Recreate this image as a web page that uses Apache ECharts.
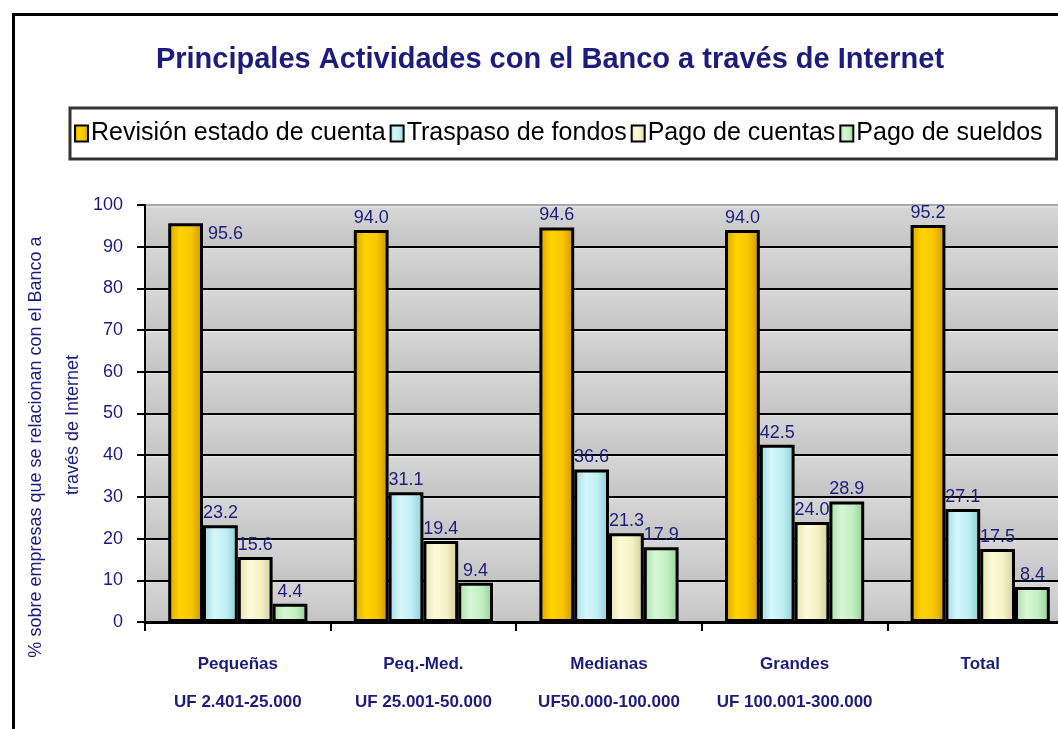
<!DOCTYPE html>
<html>
<head>
<meta charset="utf-8">
<script src="https://cdn.jsdelivr.net/npm/echarts@6/dist/echarts.min.js"></script>
<style>
html,body{margin:0;padding:0;background:#fff;overflow:hidden;}
#chart{width:1100px;height:729px;}
</style>
</head>
<body>
<div id="chart"></div>
<script>
const categories = ['Pequeñas\nUF 2.401-25.000', 'Peq.-Med.\nUF 25.001-50.000', 'Medianas\nUF50.000-100.000', 'Grandes\nUF 100.001-300.000', 'Total'];
const seriesNames = ['Revisión estado de cuenta', 'Traspaso de fondos', 'Pago de cuentas', 'Pago de sueldos'];
const revision = [95.6, 94.0, 94.6, 94.0, 95.2];
const traspaso = [23.2, 31.1, 36.6, 42.5, 27.1];
const pagoCuentas = [15.6, 19.4, 21.3, 24.0, 17.5];
const pagoSueldos = [4.4, 9.4, 17.9, 28.9, 8.4];
const yTicks = [0, 10, 20, 30, 40, 50, 60, 70, 80, 90, 100];
const yAxisTitleLines = ['% sobre empresas que se relacionan con el Banco a', 'través de Internet'];
const chartTitle = 'Principales Actividades con el Banco a través de Internet';

const navy = '#1c1c7c';
const font = "'Liberation Sans', Arial, sans-serif";

function hGrad(stops) {
  return {type: 'linear', x: 0, y: 0, x2: 1, y2: 0,
    colorStops: stops.map((c, i) => ({offset: i / (stops.length - 1), color: c}))};
}
const fills = [
  hGrad(['#D9A200', '#FFD400', '#F7C600', '#C99400']),
  hGrad(['#9FD9E2', '#D4F7FA', '#BDEFF4', '#8FC9D2']),
  hGrad(['#E4E0AE', '#FCFAD8', '#F5F1C4', '#CFCB98']),
  hGrad(['#A8DCA8', '#D6F7D6', '#C2F0C2', '#98CC98'])
];
const dataSets = [revision, traspaso, pagoCuentas, pagoSueldos];

const bandGrad = {type: 'linear', x: 0, y: 0, x2: 0, y2: 1,
  colorStops: [{offset: 0, color: '#f2f2f2'}, {offset: 0.07, color: '#d6d6d6'}, {offset: 1, color: '#c4c4c4'}]};

const series = dataSets.map((arr, si) => ({
  name: seriesNames[si],
  type: 'bar',
  barGap: '0%',
  barCategoryGap: '25%',
  itemStyle: {color: fills[si], borderColor: '#000', borderWidth: 3},
  label: {show: true, position: 'top', color: navy, fontFamily: font, fontSize: 18, distance: 3,
    formatter: p => Number(p.value).toFixed(1)},
  data: arr.map((v, i) => (si === 0 && i === 0)
    ? {value: v, label: {position: ['100%', 0], align: 'left', verticalAlign: 'top', offset: [5, 2]}}
    : v)
}));

const axisTitlePos = [[36, 447], [73, 425]];

const chart = echarts.init(document.getElementById('chart'), null, {renderer: 'canvas'});
chart.setOption({
  animation: false,
  backgroundColor: '#fff',
  title: {
    text: chartTitle, left: 545, top: 40, textAlign: 'center',
    textStyle: {color: navy, fontFamily: font, fontWeight: 'bold', fontSize: 29}
  },
  legend: {
    left: 70, top: 108,
    backgroundColor: '#fff', borderColor: '#333', borderWidth: 3,
    padding: [13, 14, 13, 4],
    itemGap: 4, itemWidth: 13, itemHeight: 16,
    icon: 'rect',
    itemStyle: {borderColor: '#000', borderWidth: 2},
    textStyle: {color: '#000', fontFamily: font, fontSize: 25, padding: [0, 0, 0, -2]},
    data: seriesNames
  },
  graphic: [{
    type: 'rect', left: 11, top: 12, silent: true,
    shape: {width: 1200, height: 800},
    style: {fill: 'none', stroke: '#000', lineWidth: 3}
  }].concat(yAxisTitleLines.map((t, i) => ({
    type: 'text', x: axisTitlePos[i][0], y: axisTitlePos[i][1], rotation: Math.PI / 2, silent: true,
    style: {text: t, fill: navy, font: '18px ' + font, textAlign: 'center', textVerticalAlign: 'middle'}
  }))),
  grid: {left: 145, top: 205, right: 27, bottom: 107, show: true, backgroundColor: '#cbcbcb', borderWidth: 0},
  xAxis: {
    type: 'category', data: categories,
    axisLine: {lineStyle: {color: '#000', width: 3}},
    axisTick: {show: true, interval: 0, length: 9, lineStyle: {color: '#000', width: 2}},
    axisLabel: {interval: 0, color: navy, fontFamily: font, fontWeight: 'bold', fontSize: 17, lineHeight: 38, margin: 23}
  },
  yAxis: {
    type: 'value', min: 0, max: 100, interval: 10,
    axisLine: {show: true, lineStyle: {color: '#000', width: 2}},
    axisTick: {show: true, length: 8, lineStyle: {color: '#000', width: 2}},
    axisLabel: {color: navy, fontFamily: font, fontSize: 18, margin: 22,
      formatter: v => yTicks.indexOf(v) >= 0 ? String(v) : ''},
    splitLine: {show: true, lineStyle: {color: ['#000', '#000', '#000', '#000', '#000', '#000', '#000', '#000', '#000', '#000', '#a8a8a8'], width: 2}},
    splitArea: {show: true, areaStyle: {color: [bandGrad]}}
  },
  series: series
});
</script>
</body>
</html>
